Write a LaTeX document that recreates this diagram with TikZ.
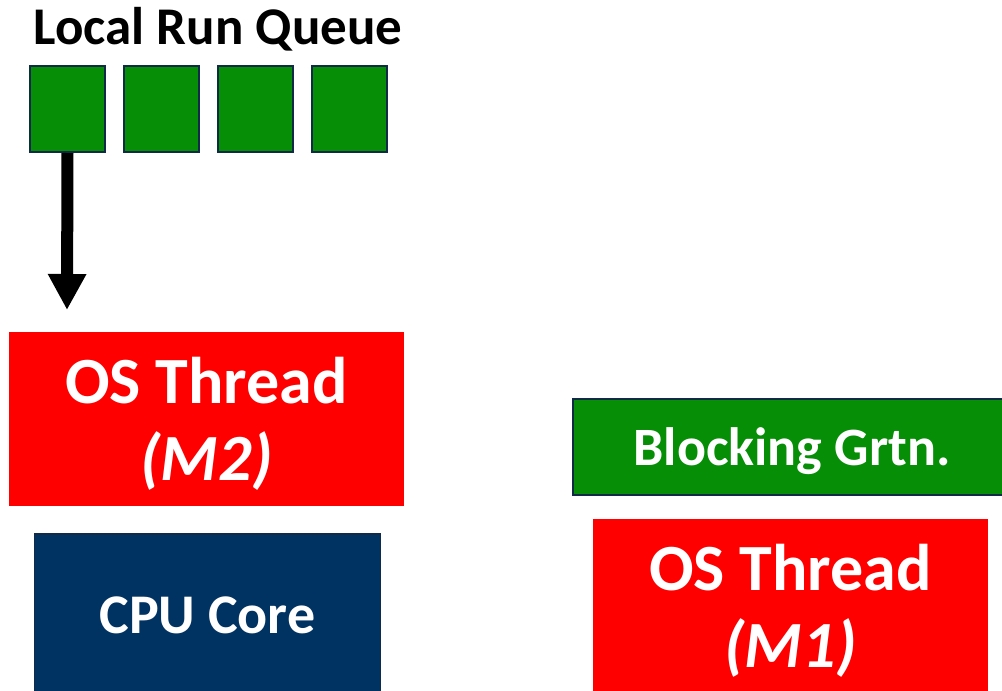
\documentclass[tikz,border=0pt]{standalone}
\usepackage{fontspec}
\setmainfont{Carlito}
\usepackage{xcolor}
\usepackage{tikz}
\usetikzlibrary{arrows.meta}

\definecolor{grtngreen}{RGB}{6,142,6}
\definecolor{edgenavy}{RGB}{16,42,72}
\definecolor{corenavy}{RGB}{0,51,98}
\definecolor{threadred}{RGB}{255,0,0}

\tikzset{
    qbox/.style={draw=edgenavy, line width=2pt, fill=grtngreen, minimum width=75pt, minimum height=86pt, inner sep=0pt},
    thread/.style={fill=threadred, text=white, minimum width=395pt, minimum height=174pt, align=center, text depth=0pt, font=\fontsize{66}{77}\selectfont\bfseries},
    core/.style={fill=corenavy, draw=edgenavy, line width=1.5pt, text=white, minimum width=346pt, minimum height=162pt, font=\fontsize{56}{66}\selectfont\bfseries},
    grtn/.style={fill=grtngreen, draw=edgenavy, line width=2pt, text=white, minimum width=438pt, minimum height=96pt, text depth=0pt, font=\fontsize{54}{64}\selectfont\bfseries}
}

\begin{document}
\begin{tikzpicture}[x=1pt,y=-1pt]
    \clip (0,0) rectangle (1002,691);
    \node[font=\fontsize{53}{62}\selectfont\bfseries] (title) at (218,29) {Local Run Queue};
    % queue slots
    \foreach \i in {1,...,4}
        \node[qbox] (q\i) at ({67.5+94*(\i-1)},109) {};
    \coordinate (tip) at (67,310);
    \draw[line width=12pt, -{Triangle[width=36pt,length=36pt]}] (q1.south) -- (tip);
    % left: running thread on the core
    \node[thread] (m2) at (206.5,419) {OS Thread\\\textit{(M2)}};
    \node[core] (cpu) at (207.5,615) {CPU Core};
    % right: blocked thread
    \node[grtn] (blk) at (792,447) {Blocking Grtn.};
    \node[thread] (m1) at (790.5,606) {OS Thread\\\textit{(M1)}};
\end{tikzpicture}
\end{document}
